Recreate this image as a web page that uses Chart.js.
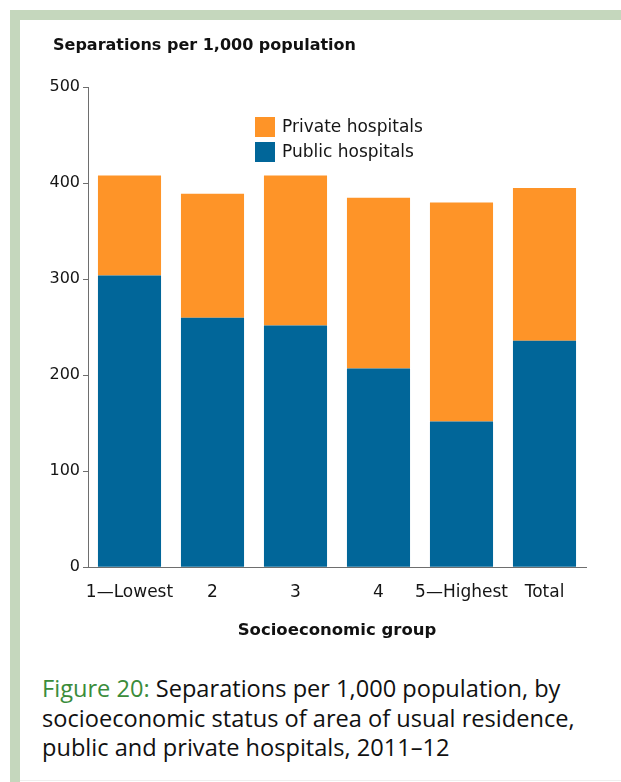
<!DOCTYPE html>
<html>
<head>
<meta charset="utf-8">
<script src="https://cdn.jsdelivr.net/npm/chart.js@4"></script>
<style>
  html, body { margin: 0; padding: 0; background: #ffffff; }
  #page { position: relative; width: 621px; height: 782px; overflow: hidden; background: #ffffff; }
  #topband { position: absolute; left: 10px; top: 10px; width: 611px; height: 10px; background: #c5d7bd; }
  #leftband { position: absolute; left: 10px; top: 10px; width: 10px; height: 772px; background: #c5d7bd; }
  #bottomline { position: absolute; left: 20px; top: 780px; width: 601px; height: 1px; background: #eeeeee; }
  #chart { position: absolute; left: 0; top: 0; }
  #caption { position: absolute; left: 42px; top: 674px; font-family: "Open Sans", "Noto Sans", sans-serif;
             font-size: 23.6px; line-height: 29.5px; color: #111111; letter-spacing: 0; white-space: nowrap; }
  #caption .fig { color: #3b8c3b; }
</style>
</head>
<body>
<div id="page">
  <div id="topband"></div>
  <div id="leftband"></div>
  <div id="bottomline"></div>
  <canvas id="chart" width="621" height="660"></canvas>
  <div id="caption"><span class="fig">Figure 20:</span> Separations per 1,000 population, by<br>socioeconomic status of area of usual residence,<br>public and private hospitals, 2011–12</div>
</div>
<script>
const categories = ["1\u2014Lowest", "2", "3", "4", "5\u2014Highest", "Total"];
const publicHospitals = [304, 260, 252, 207, 152, 236];
const privateHospitals = [104, 129, 156, 178, 228, 159];
const seriesNames = ["Public hospitals", "Private hospitals"];
const yTicks = [0, 100, 200, 300, 400, 500];
const yAxisTitle = "Separations per 1,000 population";
const xAxisTitle = "Socioeconomic group";

const BLUE = "rgb(1,102,153)";
const ORANGE = "rgb(254,148,40)";
const AXIS = "#6e6e6e";
const FONT = "'DejaVu Sans', sans-serif";

const insideLegend = {
  id: "insideLegend",
  afterDraw(chart) {
    const ctx = chart.ctx;
    const ds = chart.data.datasets.slice().reverse();
    ctx.save();
    ctx.font = "17px " + FONT;
    ctx.textBaseline = "middle";
    ctx.textAlign = "left";
    ds.forEach((d, i) => {
      const x = 255, y = 117 + i * 25;
      ctx.fillStyle = d.backgroundColor;
      ctx.fillRect(x, y, 20, 20);
      ctx.fillStyle = "#151515";
      ctx.fillText(d.label, x + 27, y + 10.5);
    });
    ctx.restore();
  }
};

const topTitle = {
  id: "topTitle",
  afterDraw(chart) {
    const ctx = chart.ctx;
    ctx.save();
    ctx.font = "bold 16px " + FONT;
    ctx.fillStyle = "#111111";
    ctx.textBaseline = "middle";
    ctx.textAlign = "left";
    ctx.fillText(yAxisTitle, 53, 46);
    ctx.restore();
  }
};

new Chart(document.getElementById("chart"), {
  type: "bar",
  data: {
    labels: categories,
    datasets: [
      { label: seriesNames[0], data: publicHospitals, backgroundColor: BLUE, borderWidth: 0,
        barPercentage: 0.76, categoryPercentage: 1.0 },
      { label: seriesNames[1], data: privateHospitals, backgroundColor: ORANGE, borderWidth: 0,
        barPercentage: 0.76, categoryPercentage: 1.0 }
    ]
  },
  options: {
    responsive: false,
    animation: false,
    devicePixelRatio: 1,
    layout: { padding: { left: 40, right: 35, top: 87.3, bottom: 0 } },
    plugins: {
      legend: { display: false },
      tooltip: { enabled: false },
      title: { display: false }
    },
    scales: {
      x: {
        stacked: true,
        grid: { display: false, drawTicks: false },
        border: { display: true, color: AXIS, width: 1 },
        ticks: { color: "#151515", font: { family: FONT, size: 17 }, padding: 15, maxRotation: 0, autoSkip: false },
        title: { display: true, text: xAxisTitle, color: "#111111",
                 font: { family: FONT, size: 16.5, weight: "bold" }, padding: { top: 0, bottom: 19 } },
        afterFit(scale) { scale.height = 92.7; }
      },
      y: {
        stacked: true,
        min: 0, max: 500,
        afterBuildTicks(scale) { scale.ticks = yTicks.map(v => ({ value: v })); },
        grid: { display: true, drawOnChartArea: false, drawTicks: true, tickLength: 5, color: AXIS, lineWidth: 1 },
        border: { display: true, color: AXIS, width: 1 },
        ticks: { color: "#151515", font: { family: FONT, size: 16 }, padding: 3 },
        afterFit(scale) { scale.width = 48; }
      }
    }
  },
  plugins: [insideLegend, topTitle]
});
</script>
</body>
</html>
